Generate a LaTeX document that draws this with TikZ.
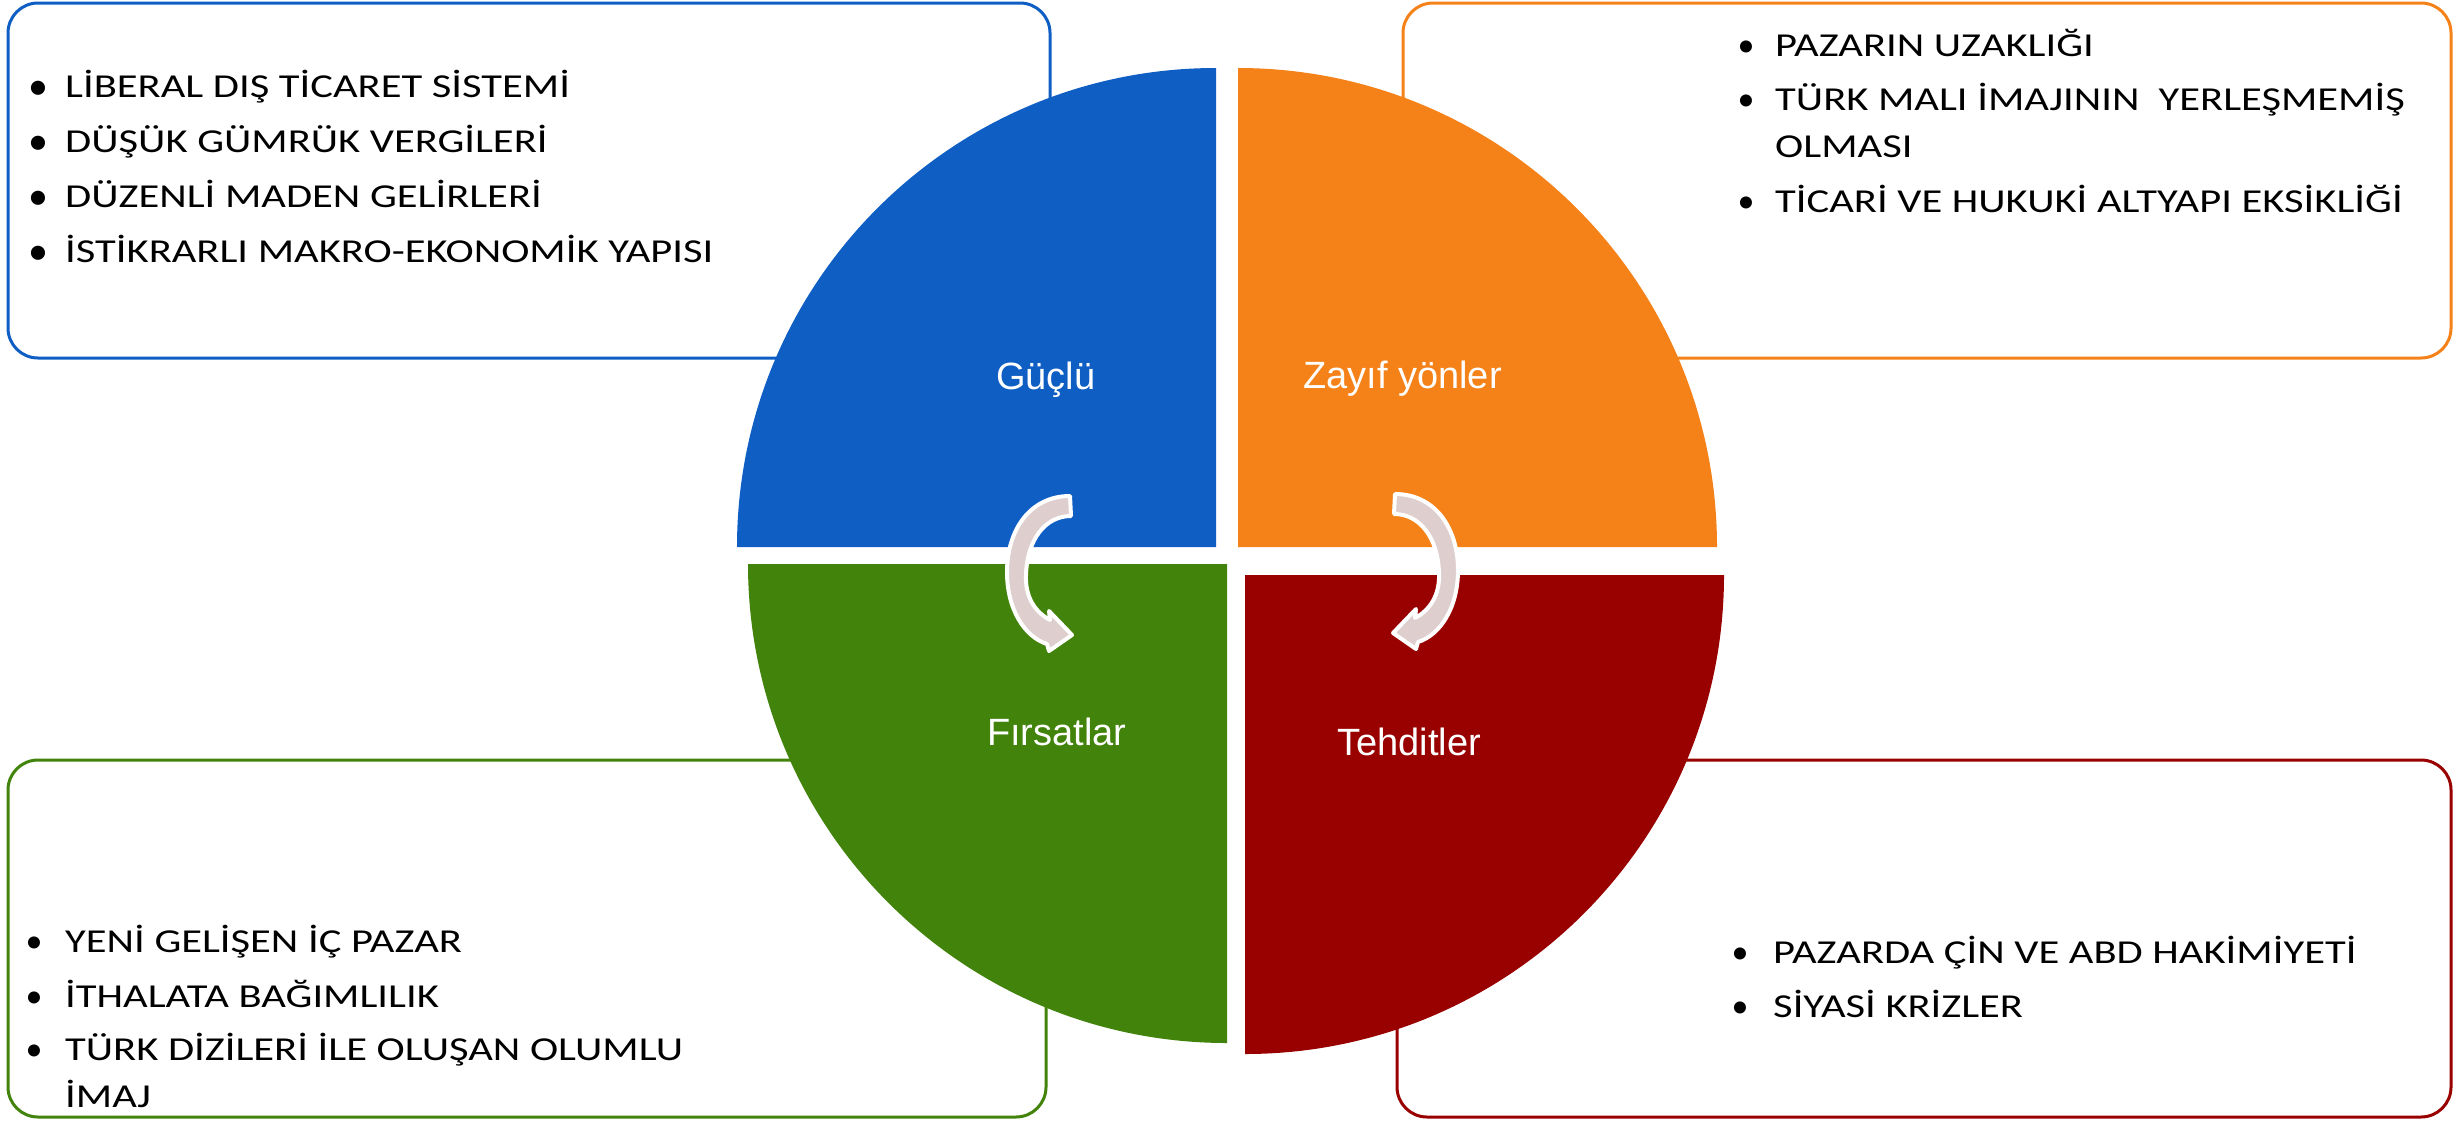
\documentclass[tikz,border=0pt]{standalone}
\usepackage{fontspec}
\setmainfont{Carlito}
\newfontfamily\itemfont[FakeStretch=1.27]{Carlito}
\newfontfamily\labfont{Liberation Sans}
\definecolor{cblue}{HTML}{0F5EC4}
\definecolor{corange}{HTML}{F58219}
\definecolor{cgreen}{HTML}{41830B}
\definecolor{cred}{HTML}{990000}
\definecolor{carrow}{HTML}{DECECE}
\tikzset{
  cycarrow/.pic={
    \draw[fill=carrow, draw=white, line width=4pt, line join=round]
      (0,-82) .. controls (-40,-82) and (-63,-48) .. (-63,-6)
      .. controls (-63,32) and (-45,59) .. (-23,66)
      -- (-21,73) -- (2,57) -- (-21,33) -- (-20,42)
      .. controls (-35,34) and (-45,19) .. (-44,-3)
      .. controls (-43,-38) and (-25,-62) .. (1,-62) -- cycle;
  }
}
\begin{document}
\begin{tikzpicture}[x=1pt,y=-1pt,
  box/.style={line width=3pt, rounded corners=30pt},
  item/.style={anchor=base west, inner sep=0pt, font=\itemfont\fontsize{33.5}{40}\selectfont},
  bul/.style={anchor=base, inner sep=0pt, font=\fontsize{34}{40}\selectfont},
  bigbul/.style={anchor=base, inner sep=0pt, font=\fontsize{40}{40}\selectfont},
  lab/.style={anchor=base west, inner sep=0pt, text=white, font=\labfont\fontsize{38}{44}\selectfont}]
\useasboundingbox (0,0) rectangle (2464,1120);
% boxes
\draw[box, cblue] (8,3) rectangle (1050,358);
\draw[box, corange] (1403,3) rectangle (2451,358);
\draw[box, cgreen] (8,760) rectangle (1046,1117);
\draw[box, cred] (1397,760) rectangle (2451,1117);
% quarters
\fill[cblue] (1216,547) -- (737,547) arc[start angle=180, end angle=270, radius=479] -- cycle;
\fill[corange] (1238,547) -- (1238,68) arc[start angle=270, end angle=360, radius=479] -- cycle;
\fill[cgreen] (1227,564) -- (1227,1043) arc[start angle=90, end angle=180, radius=479] -- cycle;
\fill[cred] (1245,575) -- (1724,575) arc[start angle=0, end angle=90, radius=479] -- cycle;
% labels
\node[lab] (lg) at (996,389) {Güçlü};
\node[lab] (lz) at (1303,388) {Zayıf yönler};
\node[lab] (lf) at (987,745) {Fırsatlar};
\node[lab] (lt) at (1337,755) {Tehditler};
% arrows
\pic at (1070,578) {cycarrow};
\pic[xscale=-1] at (1395,576) {cycarrow};
% blue items
\node[bigbul] (bb1) at (38,99) {•};  \node[item] (bt1) at (65,97) {LİBERAL DIŞ TİCARET SİSTEMİ};
\node[bigbul] (bb2) at (38,154) {•}; \node[item] (bt2) at (65,152) {DÜŞÜK GÜMRÜK VERGİLERİ};
\node[bigbul] (bb3) at (38,209) {•}; \node[item] (bt3) at (65,207) {DÜZENLİ MADEN GELİRLERİ};
\node[bigbul] (bb4) at (38,264) {•}; \node[item] (bt4) at (65,262) {İSTİKRARLI MAKRO-EKONOMİK YAPISI};
% orange items
\node[bul] (ob1) at (1746,56) {•};  \node[item] (ot1) at (1775,56) {PAZARIN UZAKLIĞI};
\node[bul] (ob2) at (1746,110) {•}; \node[item] (ot2) at (1775,110) {TÜRK MALI İMAJININ~ YERLEŞMEMİŞ};
\node[item] (ot2b) at (1775,157) {OLMASI};
\node[bul] (ob3) at (1746,212) {•}; \node[item] (ot3) at (1775,212) {TİCARİ VE HUKUKİ ALTYAPI EKSİKLİĞİ};
% green items
\node[bul] (gb1) at (34,952) {•};  \node[item] (gt1) at (65,952) {YENİ GELİŞEN İÇ PAZAR};
\node[bul] (gb2) at (34,1007) {•}; \node[item] (gt2) at (65,1007) {İTHALATA BAĞIMLILIK};
\node[bul] (gb3) at (34,1060) {•}; \node[item] (gt3) at (65,1060) {TÜRK DİZİLERİ İLE OLUŞAN OLUMLU};
\node[item] (gt3b) at (65,1107) {İMAJ};
% red items
\node[bul] (rb1) at (1740,963) {•};  \node[item] (rt1) at (1773,963) {PAZARDA ÇİN VE ABD HAKİMİYETİ};
\node[bul] (rb2) at (1740,1017) {•}; \node[item] (rt2) at (1773,1017) {SİYASİ KRİZLER};
\end{tikzpicture}
\end{document}
